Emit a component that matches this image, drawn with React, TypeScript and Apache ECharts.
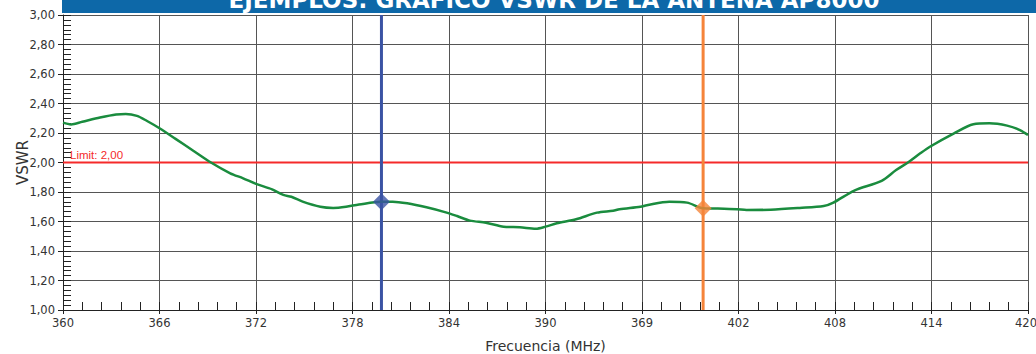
import React, { useEffect, useRef } from "react";
import * as echarts from "echarts";

const titleText = "EJEMPLOS: GRÁFICO VSWR DE LA ANTENA AP8000";
const xTickLabels = ["360", "366", "372", "378", "384", "390", "369", "402", "408", "414", "420"];
const freqs = [
  360.0, 360.5, 361.2, 362.3, 363.3, 363.9, 364.6, 365.2, 366.0, 367.0, 368.1, 369.2, 370.4, 371.2,
  372.0, 373.0, 373.7, 374.2, 374.9, 376.0, 376.8, 377.6, 378.4, 379.8, 380.5, 381.4, 382.6, 383.8,
  384.5, 385.3, 386.3, 387.4, 388.4, 389.4, 390.0, 390.7, 391.9, 393.2, 394.2, 394.6, 395.9, 396.3,
  397.7, 398.8, 399.8, 400.6, 401.9, 402.5, 404.0, 405.8, 407.3, 407.9, 409.2, 410.9, 411.8, 412.6,
  413.3, 413.9, 415.4, 416.6, 417.6, 418.7, 419.5, 420.0,
];
const vswr = [
  2.27, 2.258, 2.276, 2.305, 2.326, 2.329, 2.316, 2.283, 2.232, 2.16, 2.08, 2.0, 1.927, 1.893,
  1.855, 1.818, 1.78, 1.768, 1.735, 1.7, 1.692, 1.7, 1.715, 1.734, 1.734, 1.723, 1.696, 1.662,
  1.637, 1.606, 1.592, 1.565, 1.561, 1.551, 1.565, 1.588, 1.615, 1.66, 1.673, 1.683, 1.7, 1.71,
  1.734, 1.728, 1.69, 1.688, 1.683, 1.678, 1.68, 1.692, 1.705, 1.728, 1.81, 1.876, 1.949, 2.005,
  2.062, 2.107, 2.198, 2.259, 2.266, 2.25, 2.22, 2.186,
];
const limitValue = 2.0;
const markerFreqs = [379.8, 399.8];
const markerVswr = [1.734, 1.69];
const markerColors = ["#3a53a4", "#f5843a"];

const fmt = (v: number) => v.toFixed(2).replace(".", ",");

export default function App() {
  const ref = useRef<HTMLDivElement>(null);
  useEffect(() => {
    document.body.style.margin = "0";
    const chart = echarts.init(ref.current!, null, { renderer: "svg" });
    const font = "DejaVu Sans, Verdana, sans-serif";
    const gridColor = "#555";
    const markerSeries: any[] = [];
    markerFreqs.forEach((f, i) => {
      markerSeries.push({
        type: "line",
        data: [[f, 1], [f, 3]],
        symbol: "none",
        lineStyle: { color: markerColors[i], width: 3 },
        z: 3,
      });
      markerSeries.push({
        type: "scatter",
        data: [[f, markerVswr[i]]],
        symbol: "diamond",
        symbolSize: 17,
        itemStyle: { color: markerColors[i] },
        z: 5,
      });
    });
    const lastIdx = xTickLabels.length - 1;
    chart.setOption({
      animation: false,
      backgroundColor: "#fff",
      grid: { left: 63, right: 8, top: 15, bottom: 44, outerBoundsMode: "none", containLabel: false },
      graphic: [
        { type: "rect", shape: { x: 62, y: 0, width: 974, height: 13 }, style: { fill: "#0d68a8" }, z: 10 },
        {
          type: "text",
          x: 554,
          y: 11,
          z: 11,
          style: {
            text: titleText,
            fill: "#fff",
            font: "bold 23px " + font,
            textAlign: "center",
            textVerticalAlign: "bottom",
          },
        },
        {
          type: "text",
          x: 70,
          y: 161,
          z: 11,
          style: {
            text: "Limit: " + fmt(limitValue),
            fill: "#f52a2a",
            font: "11.5px 'Liberation Sans', Arial, sans-serif",
            textAlign: "left",
            textVerticalAlign: "bottom",
          },
        },
      ],
      xAxis: [
        {
          type: "value",
          min: 360,
          max: 420,
          interval: 6,
          name: "Frecuencia (MHz)",
          nameLocation: "middle",
          nameGap: 29,
          nameTextStyle: { fontFamily: font, fontSize: 14, color: "#333" },
          axisLine: { show: true, onZero: false, lineStyle: { color: "#222" } },
          axisTick: { show: true, length: 4, lineStyle: { color: "#222" } },
          axisLabel: {
            margin: 7,
            fontFamily: font,
            fontSize: 11.5,
            color: "#333",
            formatter: (v: number) => {
              const i = Math.round((v - 360) / 6);
              const t = xTickLabels[i] ?? "";
              return i === lastIdx ? "{r|" + t + "}" : t;
            },
            rich: { r: { fontFamily: font, fontSize: 11.5, color: "#333", padding: [0, 4, 0, 0] } },
          },
          splitLine: { show: true, lineStyle: { color: gridColor, width: 1 } },
        },
        {
          type: "value",
          min: 360,
          max: 420,
          interval: 6,
          position: "bottom",
          axisLine: { show: false },
          axisTick: { show: true, inside: true, length: 8, lineStyle: { color: "#222" } },
          minorTick: { show: true, splitNumber: 5, length: 8, lineStyle: { color: "#222" } },
          axisLabel: { show: false },
          splitLine: { show: false },
        },
      ],
      yAxis: [
        {
          type: "value",
          min: 1,
          max: 3,
          interval: 0.2,
          name: "VSWR",
          nameLocation: "middle",
          nameGap: 33,
          nameMoveOverlap: false,
          nameTextStyle: { fontFamily: font, fontSize: 15, color: "#333" },
          axisLine: { show: true, onZero: false, lineStyle: { color: "#222" } },
          axisTick: { show: true, length: 5, lineStyle: { color: "#222" } },
          axisLabel: { margin: 8, fontFamily: font, fontSize: 11.5, color: "#333", formatter: (v: number) => fmt(v) },
          splitLine: { show: true, lineStyle: { color: gridColor, width: 1 } },
        },
        {
          type: "value",
          min: 1,
          max: 3,
          interval: 0.2,
          position: "left",
          axisLine: { show: false },
          axisTick: { show: true, inside: true, length: 8, lineStyle: { color: "#222" } },
          minorTick: { show: true, splitNumber: 6, length: 8, lineStyle: { color: "#222" } },
          axisLabel: { show: false },
          splitLine: { show: false },
        },
      ],
      series: [
        {
          type: "line",
          data: [[360, limitValue], [420, limitValue]],
          symbol: "none",
          lineStyle: { color: "#f52a2a", width: 2 },
          z: 2,
        },
        {
          type: "line",
          data: freqs.map((f, i) => [f, vswr[i]]),
          symbol: "none",
          smooth: 0.3,
          lineStyle: { color: "#1a8c3e", width: 2.5 },
          z: 4,
        },
        ...markerSeries,
      ],
    });
    return () => chart.dispose();
  }, []);
  return <div ref={ref} style={{ width: 1036, height: 354 }} />;
}
